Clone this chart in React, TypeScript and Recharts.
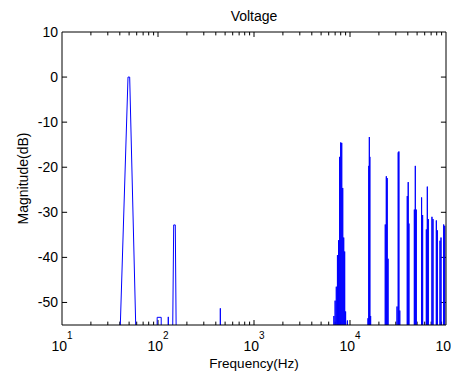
import { LineChart, Line, XAxis, YAxis, ReferenceLine } from "recharts";

// values below the axis floor (shown as clipped)
const FLOOR_DB = -80;

// shaped traces near the fundamental (Hz, dB)
const fundamentalHz = [40.5, 48.7, 50.7, 58.6];
const fundamentalDb = [-55, 0, 0, -55];
const lowBandHz = [98, 108];
const lowBandDb = [-53.3, -53.3];
const thirdHz = [142.4, 145.7, 151.4, 154.4];
const thirdDb = [-55, -32.8, -32.8, -55];

// single spectral lines, low range
const lowLinesHz = [128, 446];
const lowLinesDb = [-53.2, -51.3];

// sidebands around the 8 kHz switching frequency
const band8kHz = [6800, 7000, 7200, 7400, 7600, 7800, 8000, 8200, 8400, 8600, 8800, 9000, 9400];
const band8kDb = [-53, -49.6, -46.5, -39.5, -36.2, -17.7, -14.5, -14.6, -24.6, -35.6, -38.7, -52, -54];

// higher switching harmonics, 16 kHz .. 96 kHz
const highHz = [
  15400, 15700, 15900, 16100, 16400,
  23300, 23900, 24400, 24900,
  30900, 31800, 32300, 33000,
  39500, 40400, 41100,
  46800, 47900, 49000,
  55700, 57100,
  62400, 63900, 65400,
  71400, 73200,
  79300, 81200,
  86600, 88700,
  94600, 96900,
];
const highDb = [
  -53.5, -19.7, -13.3, -17.7, -53,
  -32.7, -22, -22.4, -40.3,
  -50.9, -16.7, -16.5, -51.8,
  -26.4, -23.3, -32.5,
  -29.4, -19.7, -29.4,
  -26.7, -30.6,
  -33.8, -24.3, -31.5,
  -31, -31.5,
  -31.8, -34,
  -36.3, -35.6,
  -32.7, -33,
];

// axis ticks
const majorHz = [10, 100, 1000, 10000, 100000];
const minorSteps = [2, 3, 4, 5, 6, 7, 8, 9];
const dbTicks = [10, 0, -10, -20, -30, -40, -50];

type Pt = { hz: number; db: number };

function buildTrace(): Pt[] {
  const groups: Pt[][] = [
    fundamentalHz.map((hz, i) => ({ hz, db: fundamentalDb[i] })),
    lowBandHz.map((hz, i) => ({ hz, db: lowBandDb[i] })),
    thirdHz.map((hz, i) => ({ hz, db: thirdDb[i] })),
    ...lowLinesHz.map((hz, i) => [{ hz, db: lowLinesDb[i] }]),
    ...band8kHz.map((hz, i) => [{ hz, db: band8kDb[i] }]),
    ...highHz.map((hz, i) => [{ hz, db: highDb[i] }]),
  ];
  groups.sort((a, b) => a[0].hz - b[0].hz);
  const out: Pt[] = [{ hz: 10, db: FLOOR_DB }];
  for (const g of groups) {
    out.push({ hz: g[0].hz * 0.998, db: FLOOR_DB });
    out.push(...g);
    out.push({ hz: g[g.length - 1].hz * 1.002, db: FLOOR_DB });
  }
  out.push({ hz: 100000, db: FLOOR_DB });
  return out;
}

const trace = buildTrace();

const minorHz = majorHz.slice(0, -1).flatMap((d) => minorSteps.map((s) => d * s));
const innerMajorHz = majorHz.slice(1, -1);
const innerDb = dbTicks.slice(1);

const FONT = "'Liberation Sans', Arial, sans-serif";

function FreqTick(props: any) {
  const { x, y, payload } = props;
  const exp = Math.round(Math.log10(payload.value));
  return (
    <text x={x} y={y + 26} textAnchor="middle" fontFamily={FONT} fontSize={14} fill="#000">
      <tspan>10</tspan>
      <tspan dy={-12.5} fontSize={10}>
        {exp}
      </tspan>
    </text>
  );
}

function DbTick(props: any) {
  const { x, y, payload } = props;
  return (
    <text x={x} y={y} dy="0.35em" textAnchor="end" fontFamily={FONT} fontSize={14} fill="#000">
      {payload.value}
    </text>
  );
}

export default function App() {
  const majLen = 1.1;
  const minLen = 0.75;
  const yTickK = 1.13;

  const segs: { k: string; s: { x: number; y: number }[] }[] = [];
  innerMajorHz.forEach((f) => {
    segs.push({ k: `bM${f}`, s: [{ x: f, y: -55 }, { x: f, y: -55 + majLen }] });
    segs.push({ k: `tM${f}`, s: [{ x: f, y: 10 }, { x: f, y: 10 - majLen }] });
  });
  minorHz.forEach((f) => {
    segs.push({ k: `bm${f}`, s: [{ x: f, y: -55 }, { x: f, y: -55 + minLen }] });
    segs.push({ k: `tm${f}`, s: [{ x: f, y: 10 }, { x: f, y: 10 - minLen }] });
  });
  innerDb.forEach((d) => {
    segs.push({ k: `l${d}`, s: [{ x: 10, y: d }, { x: 10 * yTickK, y: d }] });
    segs.push({ k: `r${d}`, s: [{ x: 100000 / yTickK, y: d }, { x: 100000, y: d }] });
  });

  return (
    <div style={{ position: "absolute", left: 0, top: 0, width: 451, height: 372, background: "#fff" }}>
      <LineChart
        width={451}
        height={372}
        data={trace}
        margin={{ top: 0, right: 0, bottom: 0, left: 2 }}
      >
        <XAxis
          dataKey="hz"
          type="number"
          scale="log"
          domain={[10, 100000]}
          ticks={majorHz}
          interval={0}
          allowDataOverflow
          height={47}
          tickLine={false}
          tickSize={0}
          tickMargin={0}
          tick={<FreqTick />}
          axisLine={{ stroke: "#000" }}
          label={{
            value: "Frequency(Hz)",
            position: "insideBottom",
            offset: 4,
            fill: "#000",
            style: { fontFamily: FONT, fontSize: 13.5, fill: "#000" },
          }}
        />
        <XAxis
          xAxisId="top"
          orientation="top"
          type="number"
          scale="log"
          domain={[10, 100000]}
          allowDataOverflow
          height={32}
          tick={false}
          tickLine={false}
          axisLine={{ stroke: "#000" }}
          label={{
            value: "Voltage",
            position: "insideTop",
            offset: 11,
            fill: "#000",
            style: { fontFamily: FONT, fontSize: 14, fill: "#000" },
          }}
        />
        <YAxis
          type="number"
          domain={[-55, 10]}
          ticks={dbTicks}
          interval={0}
          allowDataOverflow
          width={60}
          tickLine={false}
          tickSize={0}
          tickMargin={4}
          tick={<DbTick />}
          axisLine={{ stroke: "#000" }}
          label={{
            value: "Magnitude(dB)",
            angle: -90,
            position: "insideLeft",
            offset: 21,
            fill: "#000",
            style: { fontFamily: FONT, fontSize: 14, fill: "#000", textAnchor: "middle" },
          }}
        />
        <YAxis
          yAxisId="right"
          orientation="right"
          type="number"
          domain={[-55, 10]}
          allowDataOverflow
          width={5}
          tick={false}
          tickLine={false}
          axisLine={{ stroke: "#000" }}
        />
        {segs.map((g) => (
          <ReferenceLine key={g.k} segment={g.s} stroke="#000" strokeWidth={1} ifOverflow="visible" />
        ))}
        <Line
          dataKey="db"
          type="linear"
          stroke="#0000ff"
          strokeWidth={1}
          dot={false}
          activeDot={false}
          isAnimationActive={false}
        />
      </LineChart>
    </div>
  );
}
